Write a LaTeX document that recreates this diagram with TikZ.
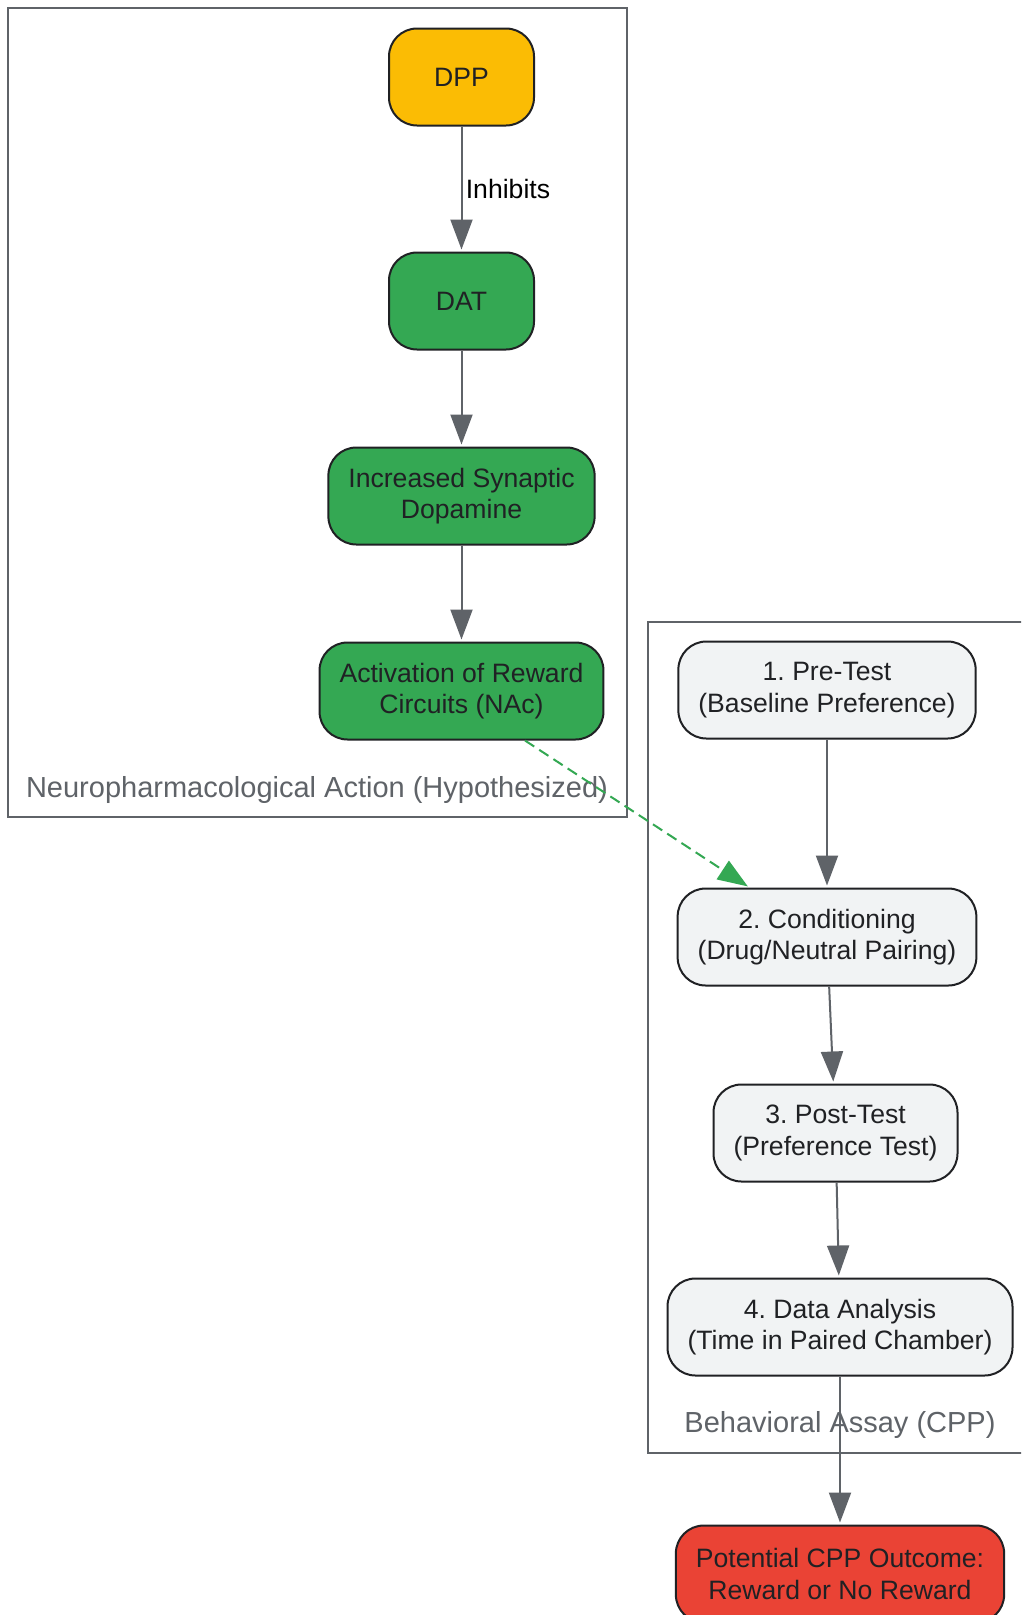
\documentclass[tikz,border=0pt]{standalone}
\usepackage{fontspec}
\setmainfont{Liberation Sans}
\frenchspacing
\usetikzlibrary{arrows.meta,positioning}

\definecolor{drugfill}{HTML}{FBBC04}
\definecolor{targetfill}{HTML}{34A853}
\definecolor{outfill}{HTML}{EA4335}
\definecolor{stepfill}{HTML}{F1F3F4}
\definecolor{nodeline}{HTML}{202124}
\definecolor{edgegrey}{HTML}{5F6368}

\begin{document}
\begin{tikzpicture}[x=1pt,y=-1pt,>={Triangle[length=30pt,width=22pt]},auto,node distance=195pt]
  \tikzstyle{box}=[draw=nodeline,line width=2pt,rounded corners=28pt,minimum height=97pt,minimum width=145pt,inner xsep=20pt,align=center,text=nodetext,font=\fontsize{26.6}{31.5}\selectfont]
  \tikzstyle{drug}=[box,fill=drugfill]
  \tikzstyle{target}=[box,fill=targetfill]
  \tikzstyle{stepbox}=[box,fill=stepfill]
  \tikzstyle{outcome}=[box,fill=outfill]
  \tikzstyle{flow}=[->,draw=edgegrey,line width=2pt,shorten >=2pt]
  \tikzstyle{cluster}=[draw=edgegrey,line width=2pt]
  \tikzstyle{clusterlabel}=[text=edgegrey,font=\fontsize{29}{34}\selectfont]
  \colorlet{nodetext}{nodeline}

  \useasboundingbox (0,0) rectangle (1021,1615);
  \clip (0,0) rectangle (1021,1615);
  \fill[white] (0,0) rectangle (1021,1615);

  % groups
  \draw[cluster] (8,7.5) rectangle (626.5,817);
  \node[clusterlabel] (neurolbl) at (317,790) {Neuropharmacological Action (Hypothesized)};
  \draw[cluster] (647.5,621.5) rectangle (1033,1453);
  \node[clusterlabel] (assaylbl) at (840,1425) {Behavioral Assay (CPP)};

  \node[drug]    (dpp) at (461.5,77)              {DPP};
  \node[target]  (dat) [below of=dpp,node distance=224pt] {DAT};
  \node[target]  (syn) [below of=dat]           {Increased Synaptic\\Dopamine};
  \node[target]  (rew) [below of=syn]           {Activation of Reward\\Circuits (NAc)};

  \node[stepbox] (pre)  at (827,690)            {1. Pre-Test\\(Baseline Preference)};
  \node[stepbox] (cond) [below of=pre,node distance=247pt] {2. Conditioning\\(Drug/Neutral Pairing)};
  \node[stepbox] (post) at (835.5,1133)         {3. Post-Test\\(Preference Test)};
  \node[stepbox] (ana)  at (840,1327)           {4. Data Analysis\\(Time in Paired Chamber)};
  \node[outcome] (out)  [below of=ana,node distance=247pt] {Potential CPP Outcome:\\Reward or No Reward};

  \path
  (dpp) edge[flow] node[text=black,font=\fontsize{26.6}{31.5}\selectfont] {Inhibits} (dat)
  (dat) edge[flow] (syn)
  (syn) edge[flow] (rew)
  (pre) edge[flow] (cond)
  (cond) edge[flow] (post)
  (post) edge[flow] (ana)
  (ana) edge[flow] (out);

  \draw[flow,draw=targetfill,dash pattern=on 11pt off 6pt] ([xshift=63.5pt]rew.south) -- ([xshift=-77.5pt]cond.north);
\end{tikzpicture}
\end{document}
